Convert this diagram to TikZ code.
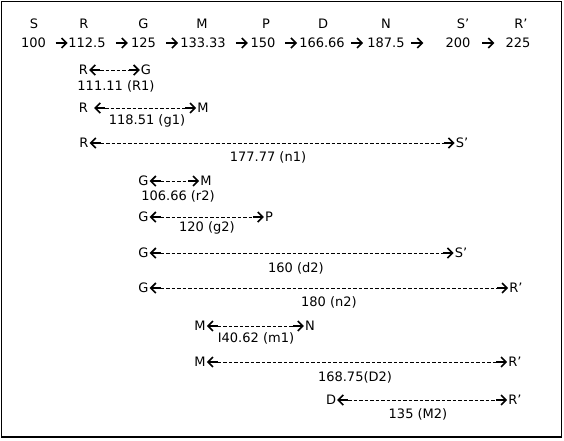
\documentclass[tikz,border=0pt]{standalone}
\usepackage{fontspec}
\setmainfont{DejaVu Sans}
\usetikzlibrary{arrows.meta}
\newcommand\twoway[3][0pt]{%
  \draw[dl] ([xshift=12pt+#1]#2.east) -- ([xshift=-12pt]#3.west);
  \draw[hd] ([xshift=12pt+#1]#2.east) -- ([xshift=1pt+#1]#2.east);
  \draw[hd] ([xshift=-12pt]#3.west) -- ([xshift=-1pt]#3.west);}
\begin{document}
\begin{tikzpicture}[x=1pt,y=-1pt,
  every node/.style={inner sep=0pt, font=\fontsize{13}{15}\selectfont, text height=9.5pt, text depth=0pt},
  dl/.style={dash pattern=on 3.5pt off 2pt, line width=0.6pt},
  hd/.style={-{Straight Barb[length=5pt,width=10pt,line width=1.6pt]}, line width=1.6pt},
  frame/.style={line width=1.5pt}]
\useasboundingbox (0,0) rectangle (564,440);
\draw[frame] (1.5,1.5) rectangle (561.5,437);
% top letters
\node (tS) at (34,24) {S};
\node (tR) at (84,24) {R};
\node (tG) at (143.5,24) {G};
\node (tM) at (202,24) {M};
\node (tP) at (266,24) {P};
\node (tD) at (323,24) {D};
\node (tN) at (386,24) {N};
\node (tS2) at (463,24) {S’};
\node (tR2) at (521,24) {R’};
% numbers
\node (n1) at (33.5,43) {100};
\node (n2) at (87,43) {112.5};
\node (n3) at (143.5,43) {125};
\node (n4) at (203,43) {133.33};
\node (n5) at (263,43) {150};
\node (n6) at (322,43) {166.66};
\node (n7) at (386,43) {187.5};
\node (n8) at (458,43) {200};
\node (n9) at (518,43) {225};
\draw[hd] ([xshift=-12.5pt]n2.west) -- ([xshift=-0.5pt]n2.west);
\draw[hd] ([xshift=-15pt]n3.west) -- ([xshift=-3pt]n3.west);
\draw[hd] ([xshift=-14pt]n4.west) -- ([xshift=-2pt]n4.west);
\draw[hd] ([xshift=-14.5pt]n5.west) -- ([xshift=-2.5pt]n5.west);
\draw[hd] ([xshift=-14pt]n6.west) -- ([xshift=-2pt]n6.west);
\draw[hd] ([xshift=-16pt]n7.west) -- ([xshift=-4pt]n7.west);
\draw[hd] ([xshift=-34pt]n8.west) -- ([xshift=-22pt]n8.west);
\draw[hd] ([xshift=-23pt]n9.west) -- ([xshift=-11pt]n9.west);
% row 3
\node (a3) at (83.5,70) {R}; \node (b3) at (146,70) {G};
\twoway{a3}{b3}
\node (l3) at (116,85.5) {111.11 (R1)};
% row 4
\node (a4) at (83.5,108) {R}; \node (b4) at (203,108) {M};
\twoway[5pt]{a4}{b4}
\node (l4) at (147,119.5) {118.51 (g1)};
% row 5
\node (a5) at (84,143) {R}; \node (b5) at (462,143) {S’};
\twoway{a5}{b5}
\node (l5) at (268,157) {177.77 (n1)};
% row 6
\node (a6) at (143.5,181) {G}; \node (b6) at (206,181) {M};
\twoway{a6}{b6}
\node (l6) at (178,196) {106.66 (r2)};
% row 7
\node (a7) at (143.5,217) {G}; \node (b7) at (269,217) {P};
\twoway{a7}{b7}
\node (l7) at (207,227) {120 (g2)};
% row 8
\node (a8) at (143.5,253) {G}; \node (b8) at (461,253) {S’};
\twoway{a8}{b8}
\node (l8) at (296,268) {160 (d2)};
% row 9
\node (a9) at (143.5,288) {G}; \node (b9) at (516,288) {R’};
\twoway{a9}{b9}
\node (l9) at (329,302) {180 (n2)};
% row 10
\node (a10) at (200,326) {M}; \node (b10) at (310,326) {N};
\twoway{a10}{b10}
\node (l10) at (256,338) {I40.62 (m1)};
% row 11
\node (a11) at (200,362) {M}; \node (b11) at (515,362) {R’};
\twoway{a11}{b11}
\node (l11) at (355,377) {168.75(D2)};
% row 12
\node (a12) at (331,400) {D}; \node (b12) at (515,400) {R’};
\twoway{a12}{b12}
\node (l12) at (418,414) {135 (M2)};
\end{tikzpicture}
\end{document}
